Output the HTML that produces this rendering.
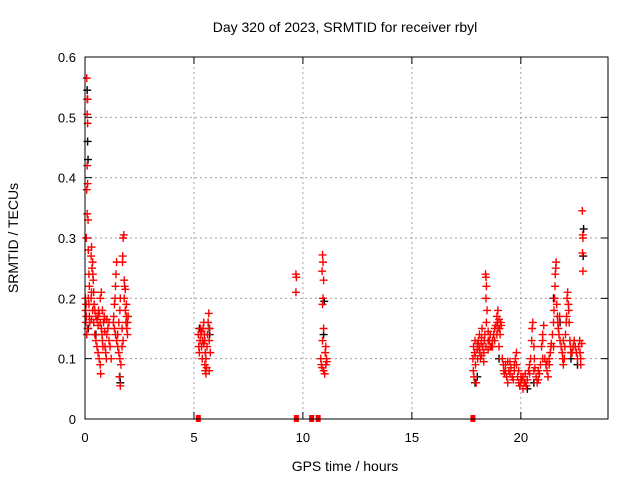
<!DOCTYPE html>
<html><head><meta charset="utf-8"><style>
html,body{margin:0;padding:0;background:#fff;}
svg{display:block;font-family:"Liberation Sans",sans-serif;}
</style></head><body>
<svg id="chart" width="640" height="480" xmlns="http://www.w3.org/2000/svg">
<text x="345" y="32" font-size="14" text-anchor="middle">Day 320 of 2023, SRMTID for receiver rbyl</text>
<text x="345" y="471" font-size="14" text-anchor="middle">GPS time / hours</text>
<text transform="translate(18,238) rotate(-90)" font-size="14" text-anchor="middle">SRMTID / TECUs</text>
<g id="grid"></g>
<g id="axes"></g>
<g id="marks"></g>
<rect x="85" y="57" width="523" height="362" fill="none" stroke="#000" stroke-width="1"/>
</svg>
<script>
const xTicks=[0,5,10,15,20];
const yTicks=[0,0.1,0.2,0.3,0.4,0.5,0.6];
const yTickLabels=["0","0.1","0.2","0.3","0.4","0.5","0.6"];
const zeroHours=[5.2,9.7,10.4,10.7,17.8];
const blackPoints=[[0.1,0.545],[0.12,0.46],[0.14,0.43],[0.15,0.15],[0.5,0.14],[1.6,0.07],[1.62,0.06],[5.7,0.15],[5.72,0.14],[10.98,0.195],[10.95,0.14],[17.9,0.06],[18.0,0.07],[19.0,0.1],[20.3,0.05],[20.6,0.06],[21.5,0.2],[21.8,0.16],[22.6,0.09],[22.88,0.315],[22.86,0.27],[22.3,0.1],[5.25,0.15]];
const redPoints=[[0.02,0.2],[0.03,0.18],[0.04,0.16],[0.05,0.19],[0.06,0.17],[0.08,0.565],[0.1,0.53],[0.12,0.53],[0.1,0.505],[0.12,0.49],[0.1,0.42],[0.12,0.39],[0.08,0.38],[0.1,0.34],[0.14,0.33],[0.06,0.3],[0.15,0.28],[0.18,0.24],[0.2,0.22],[0.15,0.2],[0.18,0.19],[0.12,0.15],[0.08,0.14],[0.2,0.17],[0.22,0.16],
[0.28,0.27],[0.3,0.285],[0.32,0.25],[0.35,0.26],[0.36,0.24],[0.38,0.23],[0.3,0.21],[0.28,0.2],[0.4,0.21],[0.42,0.19],[0.45,0.18],[0.5,0.17],[0.35,0.18],[0.4,0.16],[0.55,0.165],[0.6,0.17],[0.62,0.18],[0.65,0.175],[0.7,0.16],[0.45,0.14],[0.5,0.13],[0.55,0.12],[0.6,0.11],[0.65,0.1],[0.7,0.09],[0.72,0.075],[0.75,0.15],[0.78,0.14],[0.8,0.13],[0.82,0.12],[0.85,0.16],[0.88,0.17],[0.9,0.165],[0.7,0.2],[0.75,0.21],[0.8,0.18],[0.92,0.12],[0.95,0.11],[0.98,0.1],[1.0,0.14],[1.05,0.15],[1.1,0.13],[1.15,0.12],[1.2,0.1],[1.1,0.16],[0.6,0.155],[0.9,0.145],[1.0,0.165],[0.3,0.165],
[1.3,0.16],[1.32,0.17],[1.35,0.19],[1.38,0.2],[1.4,0.22],[1.42,0.24],[1.45,0.26],[1.35,0.15],[1.4,0.14],[1.45,0.13],[1.5,0.12],[1.55,0.11],[1.5,0.14],[1.55,0.16],[1.6,0.18],[1.62,0.2],[1.6,0.1],[1.65,0.09],[1.58,0.07],[1.62,0.055],[1.7,0.12],[1.72,0.26],[1.75,0.3],[1.73,0.27],[1.78,0.305],[1.8,0.23],[1.82,0.22],[1.85,0.215],[1.8,0.2],[1.85,0.18],[1.9,0.17],[1.88,0.16],[1.92,0.15],[1.95,0.16],[1.98,0.17],[1.9,0.19],[1.95,0.14],[1.75,0.13],[1.7,0.15],
[5.2,0.14],[5.22,0.12],[5.25,0.11],[5.28,0.13],[5.3,0.15],[5.32,0.14],[5.35,0.12],[5.38,0.1],[5.4,0.13],[5.42,0.15],[5.45,0.16],[5.48,0.14],[5.5,0.13],[5.52,0.11],[5.55,0.1],[5.5,0.09],[5.52,0.08],[5.55,0.075],[5.58,0.085],[5.6,0.12],[5.62,0.14],[5.65,0.16],[5.68,0.175],[5.7,0.13],[5.72,0.15],[5.75,0.11],[5.7,0.08],[5.35,0.145],[5.45,0.125],
[9.68,0.24],[9.7,0.235],[9.68,0.21],
[10.9,0.272],[10.92,0.26],[10.88,0.245],[10.95,0.23],[10.9,0.19],[10.92,0.2],[10.95,0.15],[10.9,0.13],[10.82,0.1],[10.85,0.09],[10.88,0.085],[10.95,0.08],[11.0,0.075],[11.05,0.09],[11.02,0.11],[11.05,0.12],[11.08,0.1],[11.1,0.095],
[17.8,0.1],[17.82,0.08],[17.85,0.07],[17.83,0.12],[17.88,0.11],[17.9,0.13],[17.92,0.09],[17.95,0.06],[18.0,0.115],[18.02,0.1],[18.05,0.13],[18.08,0.12],[18.1,0.14],[18.12,0.11],[18.15,0.1],[18.18,0.125],[18.2,0.135],[18.22,0.15],[18.25,0.12],[18.3,0.11],[18.32,0.13],[18.35,0.14],[18.38,0.24],[18.4,0.235],[18.42,0.22],[18.4,0.2],[18.45,0.18],[18.42,0.16],[18.5,0.145],[18.55,0.13],[18.6,0.14],[18.65,0.12],[18.7,0.13],[18.75,0.14],[18.8,0.15],[18.85,0.155],[18.9,0.17],[18.92,0.16],[18.95,0.18],[19.0,0.165],[19.02,0.15],[19.05,0.14],[19.08,0.16],[19.1,0.155],[18.5,0.115],[18.3,0.095],[18.6,0.12],[19.0,0.12],[17.9,0.105],[18.0,0.125],[18.1,0.115],[18.2,0.105],[18.4,0.12],[18.5,0.13],[18.7,0.12],[18.8,0.13],[18.9,0.14],[18.95,0.15],
[19.15,0.1],[19.2,0.09],[19.22,0.08],[19.25,0.075],[19.3,0.09],[19.35,0.07],[19.4,0.06],[19.45,0.08],[19.5,0.095],[19.55,0.085],[19.6,0.07],[19.65,0.065],[19.7,0.08],[19.75,0.1],[19.8,0.09],[19.85,0.07],[19.9,0.06],[19.95,0.055],[20.0,0.07],[20.05,0.065],[20.1,0.05],[20.15,0.06],[20.2,0.075],[20.25,0.055],[20.3,0.065],[19.8,0.11],[19.4,0.095],[19.3,0.08],[19.5,0.075],[19.7,0.09],[19.9,0.08],[20.0,0.06],[20.1,0.07],[20.2,0.06],
[20.35,0.08],[20.4,0.09],[20.45,0.1],[20.5,0.13],[20.52,0.15],[20.55,0.16],[20.6,0.12],[20.62,0.1],[20.65,0.085],[20.7,0.07],[20.75,0.06],[20.8,0.065],[20.85,0.075],[20.9,0.09],[20.95,0.12],[21.0,0.13],[21.0,0.14],[21.05,0.155],[21.1,0.1],[21.15,0.09],[21.2,0.08],[21.25,0.07],[21.3,0.09],[21.35,0.11],[21.38,0.12],[21.4,0.125],[20.4,0.075],[21.2,0.095],[20.6,0.08],[20.8,0.08],[21.0,0.1],[21.3,0.1],
[21.45,0.14],[21.5,0.16],[21.52,0.18],[21.55,0.2],[21.57,0.22],[21.6,0.25],[21.62,0.26],[21.58,0.24],[21.65,0.19],[21.68,0.17],[21.7,0.16],[21.72,0.15],[21.75,0.14],[21.78,0.17],[21.8,0.13],[21.5,0.12],
[21.85,0.12],[21.9,0.11],[21.92,0.1],[21.95,0.09],[22.0,0.1],[22.02,0.12],[22.05,0.14],[22.08,0.16],[22.1,0.17],[22.12,0.2],[22.15,0.21],[22.18,0.19],[22.2,0.18],[22.22,0.16],[22.25,0.13],[22.28,0.12],[22.3,0.11],[21.95,0.13],
[22.35,0.11],[22.4,0.12],[22.45,0.13],[22.5,0.12],[22.55,0.11],[22.6,0.1],[22.65,0.12],[22.7,0.13],[22.72,0.11],[22.75,0.1],[22.8,0.125],[22.75,0.09],[22.82,0.345],[22.84,0.305],[22.85,0.3],[22.83,0.275],[22.85,0.245]];

const X0=85,X1=608,Y0=419,Y1=57,XMAX=24,YMAX=0.6;
function xs(h){return X0+(X1-X0)*h/XMAX;}
function ys(v){return Y0-(Y0-Y1)*v/YMAX;}
const NS="http://www.w3.org/2000/svg";
function mk(tag,attrs,parent){const e=document.createElementNS(NS,tag);for(const k in attrs)e.setAttribute(k,attrs[k]);parent.appendChild(e);return e;}
const grid=document.getElementById('grid'),axes=document.getElementById('axes'),marks=document.getElementById('marks');
yTicks.forEach((v,i)=>{
  const y=ys(v);
  if(v>0&&v<YMAX){const g=mk('line',{x1:X0,x2:X1,y1:y,y2:y,stroke:'#a0a0a0','stroke-dasharray':'2,3'},grid);
  
  }
  const t=mk('line',{x1:X0,x2:X0+7,y1:y,y2:y,stroke:'#000'},axes);
  
  
  const t2=mk('line',{x1:X1-7,x2:X1,y1:y,y2:y,stroke:'#000'},axes);
  
  
  const l=mk('text',{x:X0-9,y:y+5,'font-size':13,'text-anchor':'end'},axes);
  l.textContent=yTickLabels[i];
  
  
});
xTicks.forEach(h=>{
  const x=xs(h);
  if(h>0){const g=mk('line',{x1:x,x2:x,y1:Y1,y2:Y0,stroke:'#a0a0a0','stroke-dasharray':'2,3'},grid);
  
  }
  const t=mk('line',{x1:x,x2:x,y1:Y0,y2:Y0-7,stroke:'#000'},axes);
  
  
  const t2=mk('line',{x1:x,x2:x,y1:Y1,y2:Y1+7,stroke:'#000'},axes);
  
  
  const l=mk('text',{x:x,y:Y0+23,'font-size':13,'text-anchor':'middle'},axes);
  l.textContent=String(h);
  
  
});
function plus(h,v,color,name){
  const x=xs(h),y=ys(v);
  const p=mk('path',{d:`M${x-4} ${y}H${x+4}M${x} ${y-4}V${y+4}`,stroke:color,'stroke-width':1.4,fill:'none'},marks);
  
  
}
blackPoints.forEach(p=>plus(p[0],p[1],'#000','black-point'));
redPoints.forEach(p=>plus(p[0],p[1],'#f00','red-point'));
zeroHours.forEach(h=>{
  const r=mk('rect',{x:xs(h)-2.5,y:Y0-4,width:5,height:7,fill:'#f00'},marks);
  
  
});
</script>
</body></html>
